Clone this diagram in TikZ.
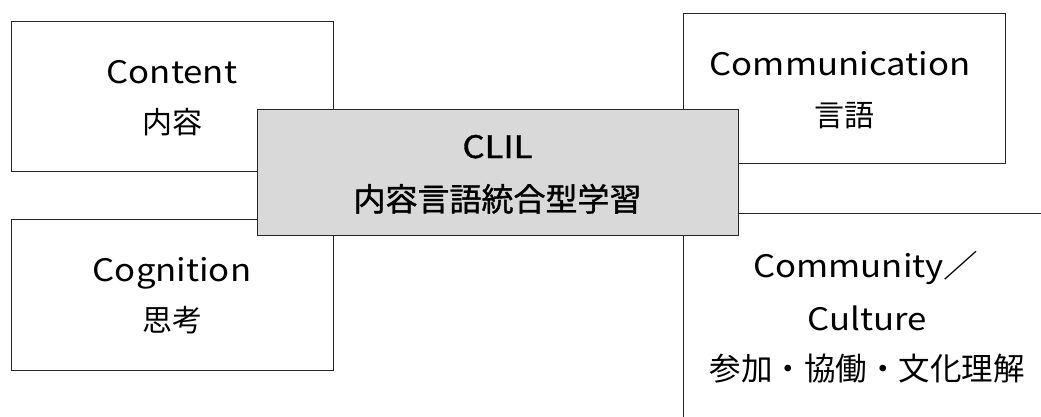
\documentclass[tikz,border=0pt]{standalone}
\usepackage{fontspec}
\setmainfont{Noto Sans CJK JP}
\newfontfamily\latf{Noto Sans CJK JP}[FakeStretch=1.12]
\newfontfamily\latb{Noto Sans CJK JP}[FakeStretch=1.12,FakeBold=1.2]
\newfontfamily\cjkb{Noto Sans CJK JP}[FakeBold=1.2]
\definecolor{boxline}{HTML}{262626}
\definecolor{clilfill}{HTML}{D9D9D9}
\tikzset{
  panel/.style={draw=boxline, line width=1pt, fill=white},
  centerbox/.style={draw=boxline, line width=1pt, fill=clilfill},
  lat/.style={anchor=base, inner sep=0pt, font=\latf\fontsize{31}{31}\selectfont},
  jp/.style={anchor=base, inner sep=0pt, font=\fontsize{30}{30}\selectfont},
  latbold/.style={anchor=base, inner sep=0pt, font=\latb\fontsize{31}{31}\selectfont},
  jpbold/.style={anchor=base, inner sep=0pt, font=\cjkb\fontsize{32}{32}\selectfont},
}
\begin{document}
\begin{tikzpicture}[x=1pt,y=-1pt]
\clip (0,0) rectangle (1041,416);
\fill[white] (0,0) rectangle (1041,416);
% outer panels
\draw[panel] (11,21) rectangle (333,171);
\draw[panel] (683,13) rectangle (1005,163);
\draw[panel] (11,219) rectangle (333,370);
\draw[panel] (683,213) rectangle (1060,440);
% center box
\draw[centerbox] (257,109) rectangle (738,235);
% texts
\node[lat] (content) at (172,83) {Content};
\node[jp] (contentjp) at (172,133) {内容};
\node[lat] (comm) at (840,75) {Communication};
\node[jp] (commjp) at (844,126) {言語};
\node[lat] (cog) at (172,281) {Cognition};
\node[jp] (cogjp) at (172,331) {思考};
\node[lat] (community) at (866,277) {Community／};
\node[lat] (culture) at (867,330) {Culture};
\node[jp, font=\fontsize{31.5}{31.5}\selectfont] (culturejp) at (867,380) {参加・協働・文化理解};
\node[latbold] (clil) at (497.5,158) {CLIL};
\node[jpbold] (cliljp) at (497.5,211) {内容言語統合型学習};
\end{tikzpicture}
\end{document}
